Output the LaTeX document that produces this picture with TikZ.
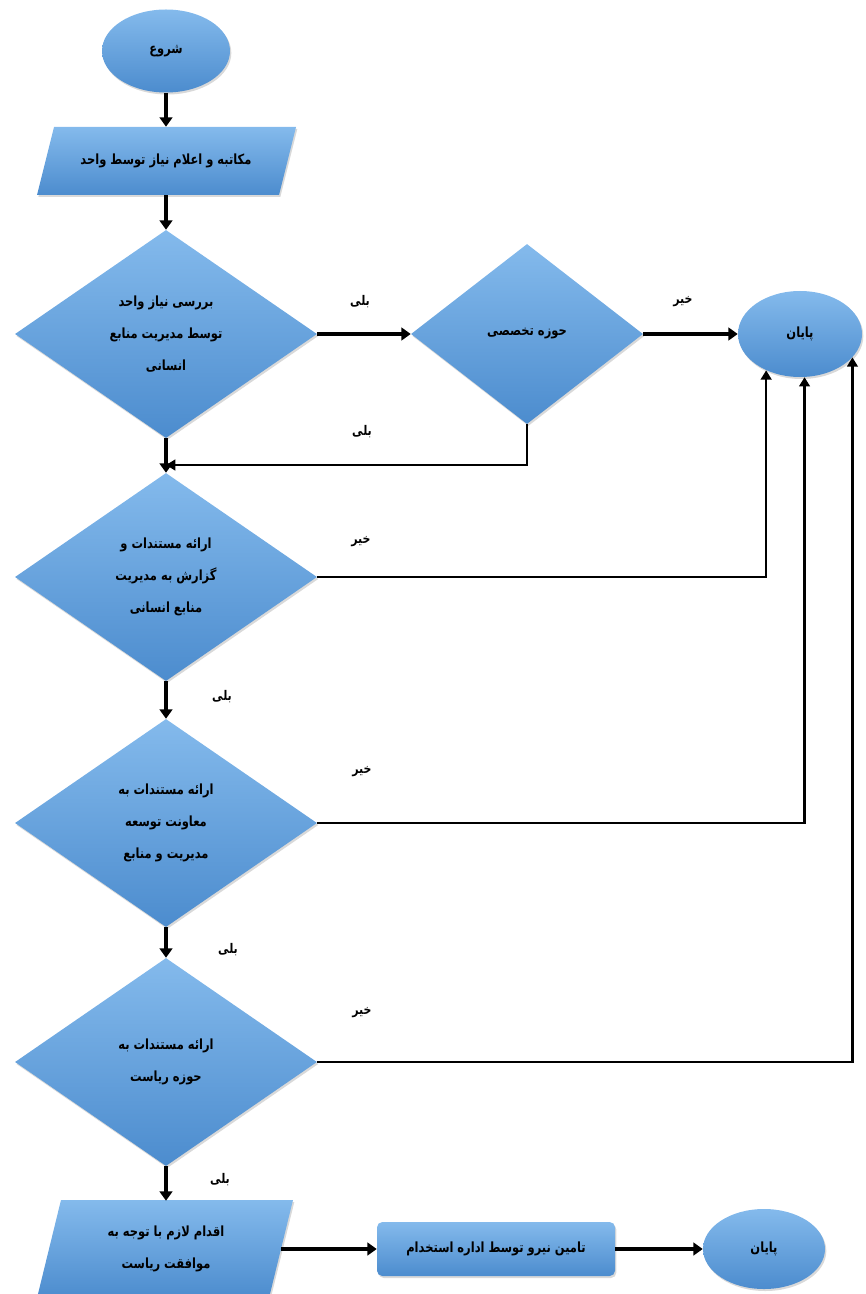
\documentclass[tikz,border=0pt]{standalone}
\usepackage{fontspec}
\usetikzlibrary{shapes.geometric,arrows.meta,shadows,calc}
\newfontfamily\arabicfont[Script=Arabic, FakeStretch=0.82]{DejaVu Sans}
\TeXXeTstate=1
\newcommand\fa[1]{\beginR #1\endR}

\definecolor{blueTop}{RGB}{132,186,236}
\definecolor{blueBot}{RGB}{76,140,206}

\tikzset{
  shapefill/.style={top color=blueTop, bottom color=blueBot, draw=none,
    drop shadow={opacity=0.3, shadow xshift=1pt, shadow yshift=-1.5pt}},
  txt/.style={font=\arabicfont\bfseries\fontsize{10.5}{24}\selectfont, align=center, text=black},
  terminal/.style={ellipse, shapefill, txt, inner sep=0pt},
  decision/.style={diamond, shapefill, txt, inner sep=0pt,
    minimum width=226.5pt, minimum height=156pt},
  holder/.style={rectangle, draw=none, txt, inner sep=0pt},
  procbox/.style={rectangle, rounded corners=4pt, shapefill, txt, inner sep=0pt,
    minimum width=178.5pt, minimum height=40.5pt},
  lbl/.style={font=\arabicfont\bfseries\fontsize{10}{10}\selectfont, text=black},
  flow/.style={-{Triangle[length=7pt,width=9.5pt]}, line width=3pt},
  link/.style={-{Triangle[length=7pt,width=8pt]}, line width=2pt},
}

\begin{document}
\begin{tikzpicture}[x=0.75pt, y=-0.75pt]
\useasboundingbox (0,0) rectangle (865,1294);

% start
\node[terminal, minimum width=96pt, minimum height=62.25pt] (start) at (166,51) {\fa{شروع}};

% request parallelogram
\path[shapefill] (54,127) -- (296,127) -- (279,195) -- (37,195) -- cycle;
\node[holder, minimum width=181pt, minimum height=51pt] (p1) at (166,161)
  {\fa{مکاتبه و اعلام نیاز توسط واحد}};

% decisions
\node[decision] (d1) at (166,334)
  {\fa{بررسی نیاز واحد}\\\fa{توسط مدیریت منابع}\\\fa{انسانی}};
\node[decision, minimum width=174pt, minimum height=135pt] (d2) at (527,334)
  {\fa{حوزه تخصصی}};
\node[terminal, minimum width=93pt, minimum height=64.5pt] (end1) at (800,334) {\fa{پایان}};

\node[decision] (d3) at (166,577)
  {\fa{ارائه مستندات و}\\\fa{گزارش به مدیریت}\\\fa{منابع انسانی}};
\node[decision] (d4) at (166,823)
  {\fa{ارائه مستندات به}\\\fa{معاونت توسعه}\\\fa{مدیریت و منابع}};
\node[decision] (d5) at (166,1062)
  {\fa{ارائه مستندات به}\\\fa{حوزه ریاست}};

% bottom row
\path[shapefill] (61,1200) -- (293,1200) -- (269,1298) -- (37,1298) -- cycle;
\node[holder, minimum width=172.5pt, minimum height=72pt] (p2) at (166,1249)
  {\fa{اقدام لازم با توجه به}\\\fa{موافقت ریاست}};
\node[procbox] (r) at (496,1249) {\fa{تامین نیرو توسط اداره استخدام}};
\node[terminal, minimum width=91.5pt, minimum height=60pt] (end2) at (764,1249) {\fa{پایان}};

% connectors
\coordinate (j1) at (166,465);
\draw[flow] (start.south) -- (p1.north);
\draw[flow] (p1.south) -- (d1.north);
\draw[flow] (d1.east) -- (d2.west);
\draw[flow] (d2.east) -- (end1.west);
\draw[link] (d2.south) |- (j1);
\draw[flow] (d1.south) -- (d3.north);
\draw[flow] (d3.south) -- (d4.north);
\draw[flow] (d4.south) -- (d5.north);
\draw[flow] (d5.south) -- (p2.north);
\draw[flow] (p2.east) -- (r.west);
\draw[flow] (r.east) -- (end2.west);
\draw[link] (d3.east) -| (end1.227);
\draw[link] (d4.east) -| (end1.276.6);
\draw[link] (d5.east) -| (end1.336);

% branch labels
\node[lbl] (l1) at (360,302) {\fa{بلی}};
\node[lbl] (l2) at (683,302) {\fa{خیر}};
\node[lbl] (l3) at (362,432) {\fa{بلی}};
\node[lbl] (l4) at (361,542) {\fa{خیر}};
\node[lbl] (l5) at (222,697) {\fa{بلی}};
\node[lbl] (l6) at (362,772) {\fa{خیر}};
\node[lbl] (l7) at (228,950) {\fa{بلی}};
\node[lbl] (l8) at (362,1013) {\fa{خیر}};
\node[lbl] (l9) at (220,1180) {\fa{بلی}};
\end{tikzpicture}
\end{document}
